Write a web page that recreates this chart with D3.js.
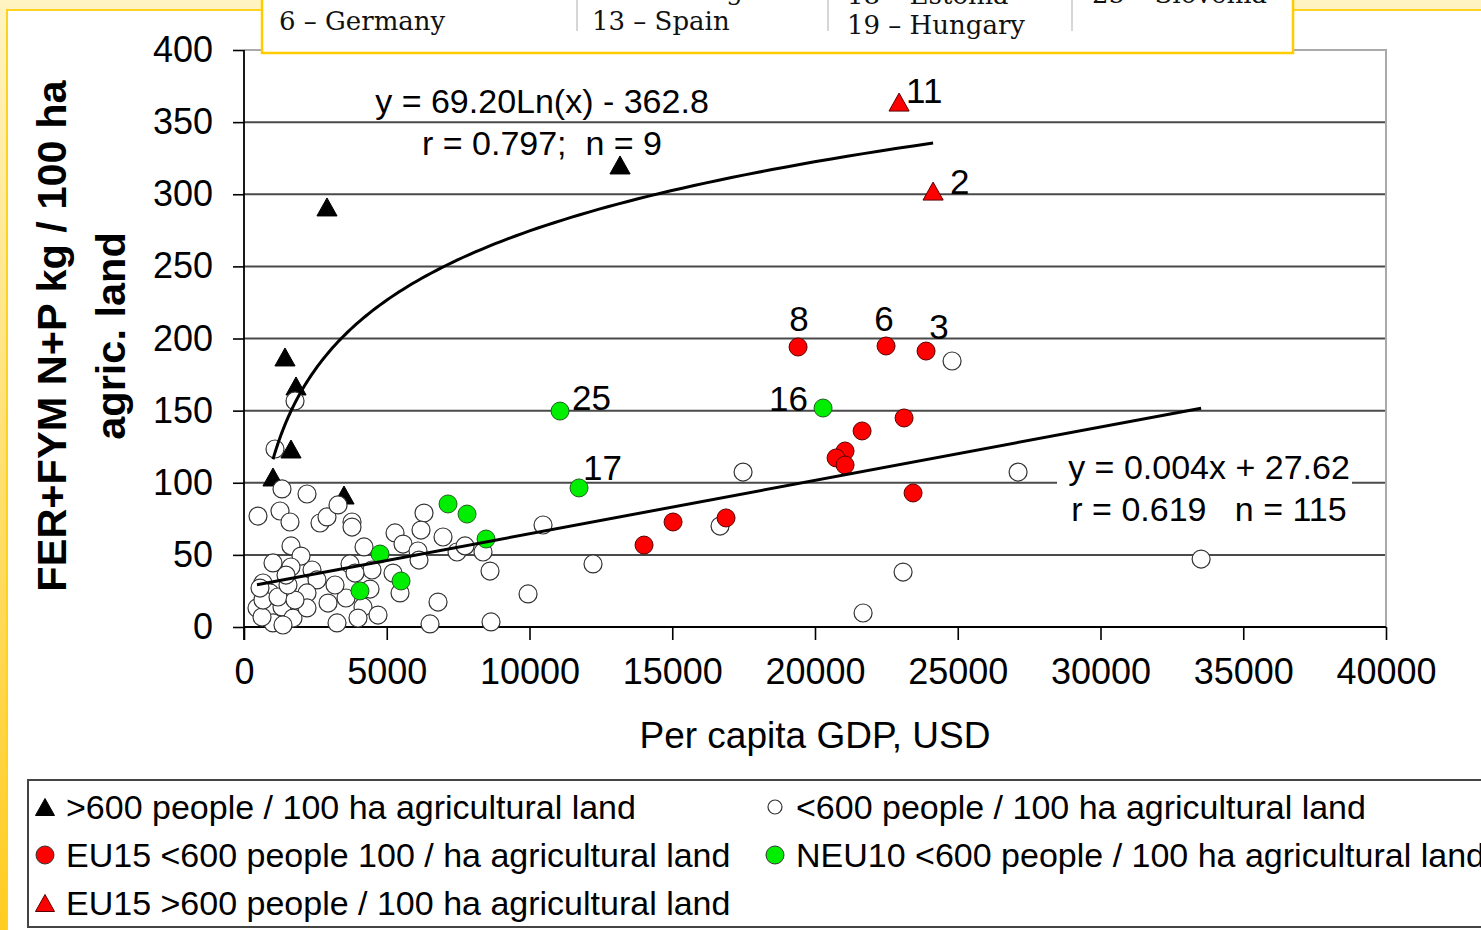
<!DOCTYPE html>
<html>
<head>
<meta charset="utf-8">
<script src="https://cdn.jsdelivr.net/npm/d3@7"></script>
<style>
  html, body { margin: 0; padding: 0; background: #fff; overflow: hidden; }
  svg { display: block; }
</style>
</head>
<body>
<svg id="chart" width="1481" height="930"></svg>
<script>
// ---------------------------------------------------------------
// Data: per capita GDP (USD) vs. FER+FYM N+P (kg / 100 ha agric. land)
// ---------------------------------------------------------------

// >600 people / 100 ha agricultural land (non-EU15)
const denseOther = [
  { gdp: 2907,  fer: 291.2 },
  { gdp: 13171, fer: 320.3 },
  { gdp: 1436,  fer: 187.2 },
  { gdp: 1822,  fer: 167.1 },
  { gdp: 1646,  fer: 123.4 },
  { gdp: 1016,  fer: 104.0 },
  { gdp: 3503,  fer: 91.5 }
];

// EU15, >600 people / 100 ha agricultural land
const denseEU15 = [
  { gdp: 22945, fer: 363.9, id: 11 },
  { gdp: 24136, fer: 302.2, id: 2 }
];

// EU15, <600 people / 100 ha agricultural land
const sparseEU15 = [
  { gdp: 19407, fer: 194.1, id: 8 },
  { gdp: 22489, fer: 194.8, id: 6 },
  { gdp: 23890, fer: 191.3, id: 3 },
  { gdp: 23120, fer: 144.9 },
  { gdp: 21649, fer: 135.9 },
  { gdp: 21053, fer: 122.0 },
  { gdp: 20738, fer: 117.2 },
  { gdp: 21053, fer: 112.3 },
  { gdp: 23435, fer: 92.9 },
  { gdp: 16884, fer: 75.6 },
  { gdp: 15028, fer: 72.8 },
  { gdp: 14012, fer: 56.8 }
];

// NEU10, <600 people / 100 ha agricultural land
const sparseNEU10 = [
  { gdp: 11069, fer: 149.7, id: 25 },
  { gdp: 20282, fer: 151.8, id: 16 },
  { gdp: 11735, fer: 96.4,  id: 17 },
  { gdp: 7146,  fer: 85.3 },
  { gdp: 7812,  fer: 78.3 },
  { gdp: 8477,  fer: 61.0 },
  { gdp: 4764,  fer: 50.6 },
  { gdp: 5500,  fer: 31.9 },
  { gdp: 4063,  fer: 25.0 }
];

// <600 people / 100 ha agricultural land (other countries)
const sparseOther = [
  [1787, 156.7], [1086, 123.4], [24801, 184.4], [27113, 107.4], [33524, 47.1],
  [23085, 38.1], [21684, 9.7], [17480, 107.4], [16674, 70.0], [12225, 43.7],
  [10474, 70.7], [9949, 22.9], [8617, 38.8], [8652, 3.5], [6796, 17.3],
  [6516, 2.1], [1331, 95.7], [2207, 92.2], [490, 76.9], [1261, 80.4],
  [1611, 72.8], [2662, 72.1], [2907, 76.3], [3293, 84.6], [3783, 72.8],
  [3783, 69.3], [6305, 79.0], [6200, 67.2], [5290, 65.2], [6971, 62.4],
  [4204, 55.5], [5570, 57.5], [6095, 52.7], [6130, 46.4], [7461, 52.0],
  [7742, 56.2], [8372, 52.0], [5219, 37.4], [4484, 39.5], [3713, 43.7],
  [2382, 39.5], [1646, 56.2], [1997, 49.2], [1016, 44.4], [1646, 41.6],
  [5465, 23.6], [4168, 13.9], [4694, 8.3], [3993, 6.2], [3258, 2.8],
  [2943, 16.6], [3573, 20.1], [3188, 29.1], [3888, 37.4], [2557, 32.6],
  [666, 30.5], [911, 23.6], [2207, 23.6], [4414, 26.3], [455, 13.2],
  [841, 10.4], [1331, 13.9], [1716, 6.2], [2207, 13.2], [1016, 2.8],
  [631, 6.9], [1366, 1.4], [666, 18.7], [1191, 20.8], [1787, 18.7],
  [1541, 29.1], [560, 27.0], [1471, 36.0]
];

// Fitted trend lines
const logFit = { a: 69.20, b: 362.8, r: 0.797, n: 9 };        // y = a·ln(x) − b
const linFit = { slope: 0.0037, intercept: 27.62, r: 0.619, n: 115 }; // y = slope·x + intercept

// Axis ticks
const xTicks = [0, 5000, 10000, 15000, 20000, 25000, 30000, 35000, 40000];
const yTicks = [0, 50, 100, 150, 200, 250, 300, 350, 400];

// Country key (visible part)
const countryKey = [
  ["5 – France", "6 – Germany"],
  ["12 – Portugal", "13 – Spain"],
  ["18 – Estonia", "19 – Hungary"],
  ["25 – Slovenia"]
];

// Legend entries
const legendItems = [
  { label: ">600 people / 100 ha agricultural land", shape: "tri", fill: "#000" },
  { label: "<600 people / 100 ha agricultural land", shape: "dot-small", fill: "#fff" },
  { label: "EU15 <600 people 100 / ha agricultural land", shape: "dot", fill: "#ff0000" },
  { label: "NEU10 <600 people / 100 ha agricultural land", shape: "dot", fill: "#00ee00" },
  { label: "EU15 >600 people / 100 ha agricultural land", shape: "tri", fill: "#ff0000" }
];

// ---------------------------------------------------------------
// Drawing
// ---------------------------------------------------------------
const W = 1481, H = 930;
const svg = d3.select("#chart");
const SANS = "'Liberation Sans', Arial, sans-serif";
const SERIF = "'DejaVu Serif', 'Liberation Serif', serif";

// Slide frame
const defs = svg.append("defs");
const grad = defs.append("linearGradient").attr("id", "frameGrad")
  .attr("x1", 0).attr("y1", 0).attr("x2", 0).attr("y2", 1);
grad.append("stop").attr("offset", "0%").attr("stop-color", "#fff4c2");
grad.append("stop").attr("offset", "100%").attr("stop-color", "#ffcc22");
svg.append("rect").attr("width", W).attr("height", H).attr("fill", "url(#frameGrad)");
svg.append("rect").attr("x", 7).attr("y", 10).attr("width", W).attr("height", H)
  .attr("fill", "#fff").attr("stroke", "#ffd21f").attr("stroke-width", 2);

const x = d3.scaleLinear().domain([0, 40000]).range([244, 1386]);
const y = d3.scaleLinear().domain([0, 400]).range([627, 50]);

// Gridlines
svg.append("g").selectAll("line")
  .data(yTicks.filter(v => v > 0 && v < 400))
  .join("line")
  .attr("x1", x(0)).attr("x2", x(40000))
  .attr("y1", d => y(d)).attr("y2", d => y(d))
  .attr("stroke", "#4a4a4a").attr("stroke-width", 2);

// Plot-area border (top and right)
svg.append("path")
  .attr("d", `M${x(0)},${y(400)}H${x(40000)}V${y(0)}`)
  .attr("fill", "none").attr("stroke", "#aaaaaa").attr("stroke-width", 2);

// Axes
const yAxis = svg.append("g").attr("transform", `translate(${x(0)},0)`)
  .call(d3.axisLeft(y).tickValues(yTicks).tickSize(11).tickPadding(20).tickFormat(d3.format("d")));
const xAxis = svg.append("g").attr("transform", `translate(0,${y(0)})`)
  .call(d3.axisBottom(x).tickValues(xTicks).tickSize(13).tickPadding(18).tickFormat(d3.format("d")));
[yAxis, xAxis].forEach(g => {
  g.select(".domain").remove();
  g.selectAll(".tick line").attr("stroke", "#000").attr("stroke-width", 1.6);
  g.selectAll(".tick text").attr("font-family", SANS).attr("font-size", 36).attr("fill", "#000");
});
svg.append("line").attr("x1", x(0)).attr("x2", x(0)).attr("y1", y(400)).attr("y2", y(0) + 13)
  .attr("stroke", "#000").attr("stroke-width", 1.8);
svg.append("line").attr("x1", x(0)).attr("x2", x(40000)).attr("y1", y(0)).attr("y2", y(0))
  .attr("stroke", "#000").attr("stroke-width", 1.8);

// Axis titles
svg.append("text").attr("x", 815).attr("y", 748)
  .attr("text-anchor", "middle").attr("font-family", SANS).attr("font-size", 37)
  .text("Per capita GDP, USD");
[["FER+FYM N+P kg / 100 ha", 66], ["agric. land", 125]].forEach(([t, bx]) => {
  svg.append("text").attr("transform", `translate(${bx},336) rotate(-90)`)
    .attr("text-anchor", "middle").attr("font-family", SANS).attr("font-size", 41.5)
    .attr("font-weight", "bold").text(t);
});

// Markers
const triPath = s => `M0,${-s * 0.5}L${s * 0.56},${s * 0.5}L${-s * 0.56},${s * 0.5}Z`;
const marks = svg.append("g");

marks.selectAll(".tri-black").data(denseOther).join("path")
  .attr("d", triPath(18))
  .attr("transform", d => `translate(${x(d.gdp)},${y(d.fer)})`)
  .attr("fill", "#000").attr("stroke", "#000").attr("stroke-width", 1);

marks.selectAll(".dot-white").data(sparseOther).join("circle")
  .attr("cx", d => x(d[0])).attr("cy", d => y(d[1])).attr("r", 9)
  .attr("fill", "#fff").attr("stroke", "#333").attr("stroke-width", 1.2);

marks.selectAll(".dot-red").data(sparseEU15).join("circle")
  .attr("cx", d => x(d.gdp)).attr("cy", d => y(d.fer)).attr("r", 9)
  .attr("fill", "#ff0000").attr("stroke", "#5a0000").attr("stroke-width", 1);

marks.selectAll(".dot-green").data(sparseNEU10).join("circle")
  .attr("cx", d => x(d.gdp)).attr("cy", d => y(d.fer)).attr("r", 9)
  .attr("fill", "#00ee00").attr("stroke", "#1f5f1f").attr("stroke-width", 1);

marks.selectAll(".tri-red").data(denseEU15).join("path")
  .attr("d", triPath(18))
  .attr("transform", d => `translate(${x(d.gdp)},${y(d.fer)})`)
  .attr("fill", "#ff0000").attr("stroke", "#5a0000").attr("stroke-width", 1);

// Trend lines over the range of their series
const denseAll = denseOther.concat(denseEU15);
const logExtent = d3.extent(denseAll, d => d.gdp);
const logPts = d3.range(120).map(i => {
  const g = logExtent[0] * Math.pow(logExtent[1] / logExtent[0], i / 119);
  return [g, logFit.a * Math.log(g) - logFit.b];
});
const allGdp = denseAll.map(d => d.gdp)
  .concat(sparseEU15.map(d => d.gdp), sparseNEU10.map(d => d.gdp), sparseOther.map(d => d[0]));
const linExtent = d3.extent(allGdp);
const linPts = linExtent.map(g => [g, linFit.slope * g + linFit.intercept]);
const line = d3.line().x(d => x(d[0])).y(d => y(d[1]));
svg.append("path").attr("d", line(logPts)).attr("fill", "none")
  .attr("stroke", "#000").attr("stroke-width", 3);
svg.append("path").attr("d", line(linPts)).attr("fill", "none")
  .attr("stroke", "#000").attr("stroke-width", 3);

// Country number labels
const labelPlace = {
  11: [7, 1, "start"], 2: [17, 3, "start"], 8: [1, -16, "middle"], 6: [-2, -15, "middle"],
  3: [13, -12, "middle"], 25: [12, -1, "start"], 16: [-15, 3, "end"], 17: [4, -8, "start"]
};
const labelled = denseEU15.concat(sparseEU15, sparseNEU10).filter(d => d.id !== undefined);
svg.append("g").selectAll("text").data(labelled).join("text")
  .attr("x", d => x(d.gdp) + labelPlace[d.id][0])
  .attr("y", d => y(d.fer) + labelPlace[d.id][1])
  .attr("text-anchor", d => labelPlace[d.id][2])
  .attr("font-family", SANS).attr("font-size", 35)
  .text(d => d.id);

// Equation labels
const f2 = d3.format(".2f"), f1 = d3.format(".1f"), f3 = d3.format(".3f");
const eqStyle = sel => sel.attr("text-anchor", "middle").attr("font-family", SANS).attr("font-size", 34);
svg.append("text").attr("x", 542).attr("y", 113).call(eqStyle)
  .text(`y = ${f2(logFit.a)}Ln(x) - ${f1(logFit.b)}`);
svg.append("text").attr("x", 542).attr("y", 155).call(eqStyle).attr("xml:space", "preserve")
  .text(`r = ${f3(logFit.r)};  n = ${logFit.n}`);

svg.append("rect").attr("x", 1057).attr("y", 447).attr("width", 295).attr("height", 88).attr("fill", "#fff");
svg.append("text").attr("x", 1209).attr("y", 479).call(eqStyle)
  .text(`y = ${f3(linFit.slope)}x + ${f2(linFit.intercept)}`);
svg.append("text").attr("x", 1209).attr("y", 521).call(eqStyle).attr("xml:space", "preserve")
  .text(`r = ${f3(linFit.r)}   n = ${linFit.n}`);

// Country key box at top (its upper rows run past the top edge)
svg.append("rect").attr("x", 262).attr("y", -30).attr("width", 1031).attr("height", 83)
  .attr("fill", "#fff").attr("stroke", "#ffcc00").attr("stroke-width", 2.5);
const keyCols = [279, 592, 847, 1092];
const keyBase = [[0, 30], [0, 30], [4, 34], [3]];
[577, 828, 1072].forEach(xx => {
  svg.append("line").attr("x1", xx).attr("x2", xx).attr("y1", 0).attr("y2", 31)
    .attr("stroke", "#bbbbbb").attr("stroke-width", 1.2);
});
countryKey.forEach((col, ci) => {
  col.forEach((t, ri) => {
    svg.append("text").attr("x", keyCols[ci]).attr("y", keyBase[ci][ri])
      .attr("font-family", SERIF).attr("font-size", 26).attr("fill", "#111").text(t);
  });
});

// Legend box at bottom
svg.append("rect").attr("x", 28).attr("y", 780).attr("width", 1480).attr("height", 147)
  .attr("fill", "#fff").attr("stroke", "#444").attr("stroke-width", 2);
const legPos = [[45, 807], [775, 807], [45, 855], [775, 855], [45, 903]];
legendItems.forEach((it, i) => {
  const [lx, ly] = legPos[i];
  const g = svg.append("g").attr("transform", `translate(${lx},${ly})`);
  if (it.shape === "tri") {
    g.append("path").attr("d", triPath(17)).attr("fill", it.fill)
      .attr("stroke", it.fill === "#000" ? "#000" : "#5a0000").attr("stroke-width", 1);
  } else if (it.shape === "dot") {
    g.append("circle").attr("r", 9).attr("fill", it.fill).attr("stroke", "#333").attr("stroke-width", 1);
  } else {
    g.append("circle").attr("r", 7).attr("fill", it.fill).attr("stroke", "#333").attr("stroke-width", 1.2);
  }
  svg.append("text").attr("x", lx + 21).attr("y", ly + 12)
    .attr("font-family", SANS).attr("font-size", 34).text(it.label);
});
</script>
</body>
</html>
